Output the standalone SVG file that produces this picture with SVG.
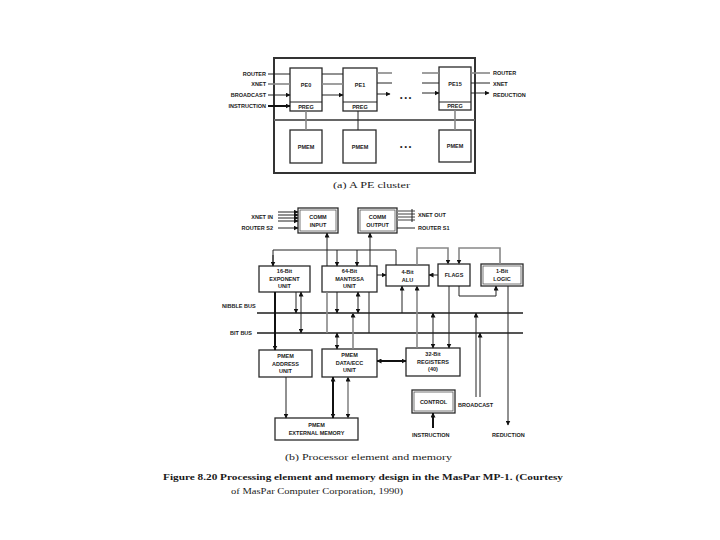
<svg xmlns="http://www.w3.org/2000/svg" width="720" height="540" viewBox="0 0 720 540">
<style>
.box{fill:#fff;stroke:#2a2a2a;stroke-width:1.3}
.dbl{fill:none;stroke:#555;stroke-width:0.8}
.t{font-family:"Liberation Sans",Arial,sans-serif;font-size:5.5px;font-weight:bold;fill:#1a1a1a;text-anchor:middle}
.l{font-family:"Liberation Sans",Arial,sans-serif;font-size:5.5px;font-weight:bold;fill:#1a1a1a}
.cap{font-family:"Liberation Serif","Times New Roman",serif;font-size:8.5px;fill:#1a1a1a}
.w{fill:none;stroke:#222;stroke-width:1}
.g{fill:none;stroke:#888;stroke-width:1.6}
.k{fill:none;stroke:#111;stroke-width:2}
.bus{fill:none;stroke:#555;stroke-width:2}
.dots{font-family:"Liberation Sans",Arial,sans-serif;font-size:7px;font-weight:bold;fill:#222}
</style>
<defs>
<marker id="a" viewBox="0 0 10 10" refX="9" refY="5" markerWidth="5" markerHeight="5" markerUnits="userSpaceOnUse" orient="auto-start-reverse"><path d="M0,0L10,5L0,10z" fill="#111"/></marker>
</defs>
<rect width="720" height="540" fill="#fff"/>

<g id="cluster">
<rect x="274" y="58" width="201" height="115" fill="none" stroke="#333" stroke-width="2"/>
<line x1="274" y1="120" x2="475" y2="120" stroke="#666" stroke-width="2"/>
</g>
<g id="pe0"><rect class="box" x="290" y="68" width="32" height="43"/><line x1="290" y1="102" x2="322" y2="102" stroke="#222" stroke-width="1"/><text class="t" x="306" y="87">PE0</text><text class="t" x="306" y="109">PREG</text></g>
<g id="pe1"><rect class="box" x="343" y="68" width="34" height="43"/><line x1="343" y1="102" x2="377" y2="102" stroke="#222" stroke-width="1"/><text class="t" x="360" y="87">PE1</text><text class="t" x="360" y="109">PREG</text></g>
<g id="pe15"><rect class="box" x="439" y="67" width="32" height="43"/><line x1="439" y1="102" x2="471" y2="102" stroke="#222" stroke-width="1"/><text class="t" x="455" y="86">PE15</text><text class="t" x="455" y="108">PREG</text></g>
<g id="pmem0"><rect class="box" x="290" y="130" width="32" height="33"/><text class="t" x="306" y="149">PMEM</text></g>
<g id="pmem1"><rect class="box" x="343" y="130" width="33" height="33"/><text class="t" x="360" y="149">PMEM</text></g>
<g id="pmem15"><rect class="box" x="439" y="130" width="32" height="32"/><text class="t" x="455" y="148">PMEM</text></g>
<g id="labels-a">
<text class="l" x="266" y="76" text-anchor="end">ROUTER</text>
<text class="l" x="266" y="86" text-anchor="end">XNET</text>
<text class="l" x="266" y="97" text-anchor="end">BROADCAST</text>
<text class="l" x="266" y="108" text-anchor="end">INSTRUCTION</text>
<text class="l" x="493" y="75">ROUTER</text>
<text class="l" x="493" y="86">XNET</text>
<text class="l" x="493" y="97">REDUCTION</text>
<text class="dots" x="400" y="100">• • •</text>
<text class="dots" x="400" y="149">• • •</text>
</g>

<g id="comm-input"><rect class="box" x="298" y="208" width="40" height="25"/><rect class="dbl" x="300" y="210" width="36" height="21"/><text class="t" x="318" y="219">COMM</text><text class="t" x="318" y="227">INPUT</text></g>
<g id="comm-output"><rect class="box" x="358" y="208" width="39" height="25"/><rect class="dbl" x="360" y="210" width="35" height="21"/><text class="t" x="377.5" y="219">COMM</text><text class="t" x="377.5" y="227">OUTPUT</text></g>
<g id="exponent"><rect class="box" x="259" y="266" width="51" height="26"/><text class="t" x="284.5" y="273">16-Bit</text><text class="t" x="284.5" y="280.5">EXPONENT</text><text class="t" x="284.5" y="288">UNIT</text></g>
<g id="mantissa"><rect class="box" x="322" y="266" width="55" height="26"/><text class="t" x="349.5" y="273">64-Bit</text><text class="t" x="349.5" y="280.5">MANTISSA</text><text class="t" x="349.5" y="288">UNIT</text></g>
<g id="alu"><rect class="box" x="386" y="265" width="43" height="21"/><text class="t" x="407.5" y="274">4-Bit</text><text class="t" x="407.5" y="282">ALU</text></g>
<g id="flags"><rect class="box" x="438" y="264" width="32" height="22"/><text class="t" x="454" y="277">FLAGS</text></g>
<g id="logic"><rect class="box" x="481" y="264" width="42" height="22"/><rect class="dbl" x="483" y="266" width="38" height="18"/><text class="t" x="502" y="273">1-Bit</text><text class="t" x="502" y="281">LOGIC</text></g>
<g id="pmem-address"><rect class="box" x="259" y="350" width="53" height="27"/><text class="t" x="285.5" y="358">PMEM</text><text class="t" x="285.5" y="365.5">ADDRESS</text><text class="t" x="285.5" y="373">UNIT</text></g>
<g id="pmem-data"><rect class="box" x="322" y="349" width="55" height="28"/><text class="t" x="349.5" y="357">PMEM</text><text class="t" x="349.5" y="364.5">DATA/ECC</text><text class="t" x="349.5" y="372">UNIT</text></g>
<g id="registers"><rect class="box" x="406" y="348" width="54" height="28"/><text class="t" x="433" y="356">32-Bit</text><text class="t" x="433" y="363.5">REGISTERS</text><text class="t" x="433" y="371">(40)</text></g>
<g id="control"><rect class="box" x="412" y="390" width="43" height="23"/><rect class="dbl" x="414" y="392" width="39" height="19"/><text class="t" x="433.5" y="404">CONTROL</text></g>
<g id="ext-memory"><rect class="box" x="275" y="418" width="83" height="22"/><text class="t" x="316.5" y="427">PMEM</text><text class="t" x="316.5" y="435">EXTERNAL MEMORY</text></g>

<g id="labels-b">
<text class="l" x="273" y="219" text-anchor="end">XNET IN</text>
<text class="l" x="273" y="230" text-anchor="end">ROUTER S2</text>
<text class="l" x="418" y="217">XNET OUT</text>
<text class="l" x="418" y="230">ROUTER S1</text>
<text class="l" x="222" y="308">NIBBLE BUS</text>
<text class="l" x="230" y="335">BIT BUS</text>
<text class="l" x="458" y="407">BROADCAST</text>
<text class="l" x="412" y="437">INSTRUCTION</text>
<text class="l" x="492" y="437">REDUCTION</text>
</g>

<g id="connectors">
<!-- part a -->
<line class="w" x1="268" y1="74" x2="290" y2="74"/>
<line class="g" x1="268" y1="84" x2="290" y2="84"/>
<line class="w" x1="268" y1="95" x2="290" y2="95" marker-end="url(#a)"/>
<line class="k" x1="268" y1="106" x2="290" y2="106" marker-end="url(#a)"/>
<line class="w" x1="322" y1="74" x2="343" y2="74"/>
<line class="g" x1="322" y1="84" x2="343" y2="84"/>
<line class="w" x1="322" y1="95" x2="343" y2="95" marker-end="url(#a)"/>
<line class="g" x1="377" y1="73" x2="392" y2="73"/>
<line class="w" x1="377" y1="83" x2="392" y2="83"/>
<line class="w" x1="377" y1="94" x2="390" y2="94" marker-end="url(#a)"/>
<line class="g" x1="422" y1="73" x2="439" y2="73"/>
<line class="w" x1="422" y1="83" x2="439" y2="83"/>
<line class="w" x1="422" y1="93" x2="439" y2="93" marker-end="url(#a)"/>
<line class="g" x1="471" y1="73" x2="490" y2="73"/>
<line class="w" x1="471" y1="83" x2="490" y2="83"/>
<line class="w" x1="471" y1="93" x2="489" y2="93" marker-end="url(#a)"/>
<line class="g" x1="306" y1="111" x2="306" y2="130"/>
<line class="w" x1="358" y1="111" x2="358" y2="130"/>
<line class="g" x1="455" y1="110" x2="455" y2="130"/>
<!-- part b: comm -->
<line class="w" x1="278" y1="212" x2="298" y2="212" marker-end="url(#a)"/>
<line class="w" x1="278" y1="215" x2="298" y2="215" marker-end="url(#a)"/>
<line class="w" x1="278" y1="218" x2="298" y2="218" marker-end="url(#a)"/>
<line class="w" x1="278" y1="221" x2="298" y2="221" marker-end="url(#a)"/>
<line class="w" x1="278" y1="228" x2="298" y2="228" marker-end="url(#a)"/>
<line class="g" x1="397" y1="211" x2="415" y2="211" stroke-width="1"/>
<line class="g" x1="397" y1="214" x2="415" y2="214" stroke-width="1"/>
<line class="g" x1="397" y1="217" x2="415" y2="217" stroke-width="1"/>
<line class="g" x1="397" y1="220" x2="415" y2="220" stroke-width="1"/>
<line class="w" x1="412" y1="209" x2="412" y2="222"/>
<line class="w" x1="397" y1="228" x2="415" y2="228"/>
<!-- top distribution -->
<polyline class="w" points="273,266 273,250 396,250 396,265"/>
<line class="w" x1="273" y1="255" x2="273" y2="266" marker-end="url(#a)"/>
<line class="w" x1="337" y1="250" x2="337" y2="266" marker-end="url(#a)"/>
<line class="w" x1="357" y1="250" x2="357" y2="266" marker-end="url(#a)"/>
<line class="w" x1="327" y1="266" x2="327" y2="233" marker-end="url(#a)"/>
<line class="w" x1="370" y1="266" x2="370" y2="233" marker-end="url(#a)"/>
<line class="w" x1="377" y1="275" x2="386" y2="275" marker-end="url(#a)"/>
<line class="w" x1="438" y1="275" x2="429" y2="275" marker-end="url(#a)"/>
<polyline class="g" points="417,265 417,248 448,248 448,264" stroke-width="1.2" marker-end="url(#a)"/>
<polyline class="g" points="500,264 500,248 459,248 459,264" stroke-width="1.2" marker-end="url(#a)"/>
<polyline class="w" points="459,286 459,296 496,296 496,286" marker-end="url(#a)"/>
<!-- buses -->
<line class="bus" x1="257" y1="313" x2="523" y2="313"/>
<line class="bus" x1="257" y1="333" x2="523" y2="333" stroke="#777"/>
<!-- exponent -->
<line class="k" x1="275" y1="292" x2="275" y2="350" marker-end="url(#a)"/>
<line class="w" x1="296" y1="292" x2="296" y2="313" marker-end="url(#a)"/>
<line class="w" x1="301" y1="292" x2="301" y2="333" marker-start="url(#a)" marker-end="url(#a)"/>
<!-- mantissa -->
<line class="g" x1="327" y1="292" x2="327" y2="333" stroke-width="1"/>
<line class="w" x1="337" y1="292" x2="337" y2="313" marker-end="url(#a)"/>
<line class="w" x1="337" y1="333" x2="337" y2="349" marker-start="url(#a)" marker-end="url(#a)"/>
<line class="w" x1="358" y1="292" x2="358" y2="313" marker-start="url(#a)" marker-end="url(#a)"/>
<line class="g" x1="353" y1="349" x2="353" y2="313" stroke-width="1.2" marker-end="url(#a)"/>
<line class="w" x1="369" y1="292" x2="369" y2="333"/>
<!-- memory -->
<line class="w" x1="286" y1="377" x2="286" y2="418" marker-end="url(#a)"/>
<line class="k" x1="333" y1="377" x2="333" y2="418" stroke-width="1.6" marker-start="url(#a)" marker-end="url(#a)"/>
<line class="g" x1="348" y1="377" x2="348" y2="418" stroke-width="1.3" marker-start="url(#a)" marker-end="url(#a)"/>
<line class="k" x1="377" y1="361" x2="406" y2="361" stroke-width="1.5" marker-start="url(#a)" marker-end="url(#a)"/>
<!-- alu / flags / registers -->
<line class="w" x1="402" y1="313" x2="402" y2="286" marker-end="url(#a)"/>
<line class="g" x1="417" y1="348" x2="417" y2="286" stroke-width="1.2" marker-end="url(#a)"/>
<line class="w" x1="433" y1="313" x2="433" y2="348" marker-start="url(#a)" marker-end="url(#a)"/>
<line class="w" x1="449" y1="286" x2="449" y2="348" marker-end="url(#a)"/>
<line class="w" x1="476" y1="397" x2="476" y2="313" marker-end="url(#a)"/>
<line class="w" x1="480" y1="397" x2="480" y2="333" marker-end="url(#a)"/>
<line class="w" x1="508" y1="286" x2="508" y2="425" marker-end="url(#a)"/>
<line class="k" x1="433" y1="428" x2="433" y2="413" marker-end="url(#a)"/>
</g>

<g id="captions">
<text class="cap" x="333" y="188" textLength="77" lengthAdjust="spacingAndGlyphs">(a) A PE cluster</text>
<text class="cap" x="285" y="460" textLength="167" lengthAdjust="spacingAndGlyphs">(b) Processor element and memory</text>
<text class="cap" x="163" y="480" font-weight="bold" textLength="400" lengthAdjust="spacingAndGlyphs">Figure 8.20 Processing element and memory design in the MasPar MP-1. (Courtesy</text>
<text class="cap" x="231" y="494" textLength="172" lengthAdjust="spacingAndGlyphs">of MasPar Computer Corporation, 1990)</text>
</g>
</svg>
